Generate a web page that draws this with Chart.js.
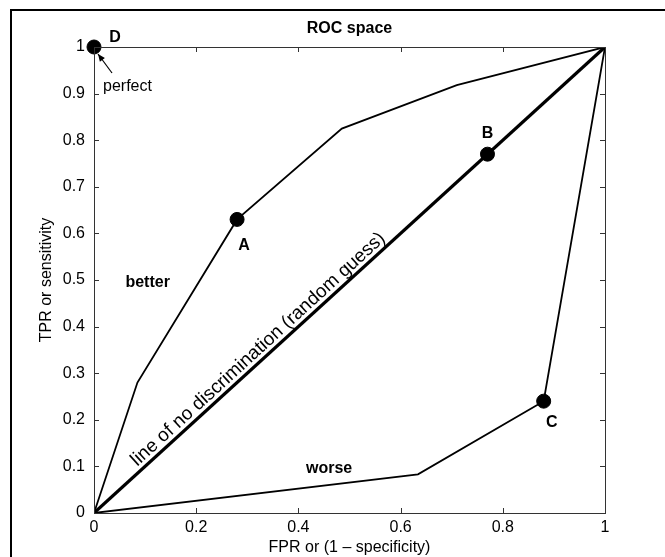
<!DOCTYPE html>
<html>
<head>
<meta charset="utf-8">
<script src="https://cdn.jsdelivr.net/npm/chart.js@4"></script>
<style>
  html, body { margin: 0; padding: 0; background: #fff; }
  #wrap { width: 665px; height: 557px; }
</style>
</head>
<body>
<div id="wrap"><canvas id="roc" width="665" height="557"></canvas></div>
<script>
// data
const diagFpr = [0, 1];
const diagTpr = [0, 1];
const upperFpr = [0, 0.085, 0.28, 0.485, 0.71, 1];
const upperTpr = [0, 0.28, 0.63, 0.825, 0.918, 1];
const lowerFpr = [0, 0.634, 0.88, 1];
const lowerTpr = [0, 0.083, 0.24, 1];
const pointNames = ['A', 'B', 'C', 'D'];
const pointFpr = [0.28, 0.77, 0.88, 0];
const pointTpr = [0.63, 0.77, 0.24, 1];
const xTicks = [0, 0.2, 0.4, 0.6, 0.8, 1];
const yTicks = [0, 0.1, 0.2, 0.3, 0.4, 0.5, 0.6, 0.7, 0.8, 0.9, 1];

const FONT = '"Liberation Sans", Arial, Helvetica, sans-serif';
const toXY = (xs, ys) => xs.map((x, i) => ({ x: x, y: ys[i] }));

// Frame, inward ticks, labels, arrow
const decorPlugin = {
  id: 'decor',
  afterDraw(chart) {
    const { ctx, chartArea: a, scales: { x, y } } = chart;
    ctx.save();

    // outer page border (left + top)
    ctx.strokeStyle = '#000';
    ctx.lineWidth = 2;
    ctx.beginPath();
    ctx.moveTo(11, 557);
    ctx.lineTo(11, 10);
    ctx.lineTo(665, 10);
    ctx.stroke();

    // plot box
    ctx.lineWidth = 1;
    ctx.strokeStyle = '#333';
    ctx.strokeRect(a.left + 0.5, a.top + 0.5, a.right - a.left, a.bottom - a.top);

    // inward ticks on four sides
    ctx.beginPath();
    xTicks.forEach(v => {
      const px = Math.round(x.getPixelForValue(v)) + 0.5;
      ctx.moveTo(px, a.bottom); ctx.lineTo(px, a.bottom - 5);
      ctx.moveTo(px, a.top); ctx.lineTo(px, a.top + 5);
    });
    yTicks.forEach(v => {
      const py = Math.round(y.getPixelForValue(v)) + 0.5;
      ctx.moveTo(a.left, py); ctx.lineTo(a.left + 5, py);
      ctx.moveTo(a.right, py); ctx.lineTo(a.right - 5, py);
    });
    ctx.stroke();

    // title
    ctx.fillStyle = '#000';
    ctx.font = 'bold 16px ' + FONT;
    ctx.textAlign = 'center';
    ctx.textBaseline = 'middle';
    ctx.fillText('ROC space', (a.left + a.right) / 2, 29);

    // point letters
    const px = pointFpr.map(v => x.getPixelForValue(v));
    const py = pointTpr.map(v => y.getPixelForValue(v));
    const offs = { A: [7, 26], B: [0, -21], C: [8, 21], D: [21, -9] };
    ctx.font = 'bold 16px ' + FONT;
    pointNames.forEach((n, i) => {
      ctx.fillText(n, px[i] + offs[n][0], py[i] + offs[n][1]);
    });

    // region words
    ctx.fillText('better', x.getPixelForValue(0.105), y.getPixelForValue(0.495));
    ctx.fillText('worse', x.getPixelForValue(0.46), y.getPixelForValue(0.095));

    // "perfect" with arrow to D
    ctx.font = '16px ' + FONT;
    ctx.textAlign = 'left';
    ctx.fillText('perfect', px[3] + 9, py[3] + 40);
    const sx = px[3] + 18, sy = py[3] + 26, ex = px[3] + 4, ey = py[3] + 7;
    ctx.lineWidth = 1.2;
    ctx.strokeStyle = '#000';
    ctx.beginPath(); ctx.moveTo(sx, sy); ctx.lineTo(ex, ey); ctx.stroke();
    const ang = Math.atan2(ey - sy, ex - sx);
    ctx.beginPath();
    ctx.moveTo(ex, ey);
    ctx.lineTo(ex - 8 * Math.cos(ang - 0.4), ey - 8 * Math.sin(ang - 0.4));
    ctx.lineTo(ex - 8 * Math.cos(ang + 0.4), ey - 8 * Math.sin(ang + 0.4));
    ctx.closePath(); ctx.fill();

    // text along the diagonal
    const x0 = x.getPixelForValue(0), y0 = y.getPixelForValue(0);
    const x1 = x.getPixelForValue(1), y1 = y.getPixelForValue(1);
    const rot = Math.atan2(y1 - y0, x1 - x0);
    const cx = x.getPixelForValue(0.335), cy = y.getPixelForValue(0.335);
    ctx.translate(cx, cy);
    ctx.rotate(rot);
    ctx.textAlign = 'center';
    ctx.textBaseline = 'alphabetic';
    ctx.font = '19px ' + FONT;
    ctx.fillText('line of no discrimination (random guess)', 0, -5);

    ctx.restore();
  }
};

new Chart(document.getElementById('roc'), {
  type: 'scatter',
  data: {
    datasets: [
      { data: toXY(diagFpr, diagTpr), showLine: true, borderColor: '#000', borderWidth: 3.2, pointRadius: 0 },
      { data: toXY(upperFpr, upperTpr), showLine: true, borderColor: '#000', borderWidth: 1.8, pointRadius: 0 },
      { data: toXY(lowerFpr, lowerTpr), showLine: true, borderColor: '#000', borderWidth: 1.8, pointRadius: 0 },
      { data: toXY(pointFpr, pointTpr), showLine: false, pointRadius: 7, pointBackgroundColor: '#000', pointBorderColor: '#000', clip: false }
    ]
  },
  options: {
    responsive: false,
    animation: false,
    devicePixelRatio: 1,
    layout: { padding: { left: 20, right: 60, top: 47, bottom: 0 } },
    plugins: { legend: { display: false }, tooltip: { enabled: false } },
    scales: {
      x: {
        type: 'linear', min: 0, max: 1,
        afterFit: s => { s.height = 44; },
        afterBuildTicks: s => { s.ticks = xTicks.map(v => ({ value: v })); },
        grid: { display: false, drawTicks: false },
        border: { display: false },
        ticks: { color: '#000', padding: 5, maxRotation: 0, font: { family: FONT, size: 16 }, callback: v => String(v) },
        title: { display: true, text: 'FPR or (1 \u2013 specificity)', color: '#000', font: { family: FONT, size: 16 }, padding: 0 }
      },
      y: {
        type: 'linear', min: 0, max: 1,
        afterFit: s => { s.width = 74; },
        afterBuildTicks: s => { s.ticks = yTicks.map(v => ({ value: v })); },
        grid: { display: false, drawTicks: false },
        border: { display: false },
        ticks: { color: '#000', padding: 9, font: { family: FONT, size: 16 }, callback: v => String(Math.round(v * 10) / 10) },
        title: { display: true, text: 'TPR or sensitivity', color: '#000', font: { family: FONT, size: 16 }, padding: { top: 17, bottom: 17 } }
      }
    }
  },
  plugins: [decorPlugin]
});
</script>
</body>
</html>
